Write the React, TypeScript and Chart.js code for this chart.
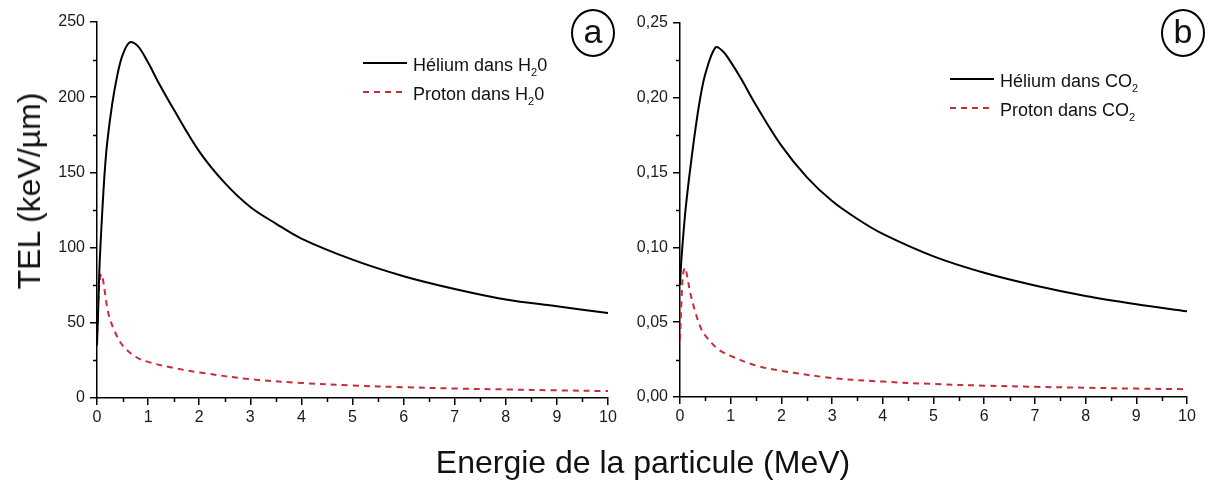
import React, { useEffect, useRef } from 'react';
import { Chart, registerables } from 'chart.js';
Chart.register(...registerables);

// ---- Data ----
const HELIUM_E_A = [0, 0.02, 0.05, 0.1, 0.15, 0.2, 0.3, 0.4, 0.5, 0.64, 0.8, 1, 1.2, 1.5, 2, 2.5, 3, 3.5, 4, 5, 6, 7, 8, 9, 10];
const HELIUM_H2O = [35, 55, 88, 122, 150, 170, 196, 215, 228, 236.5, 234, 223, 210, 192, 164, 143, 127, 116, 106, 92, 81, 72.5, 65.5, 61, 56.5];
const PROTON_E_A = [0, 0.03, 0.06, 0.09, 0.12, 0.16, 0.2, 0.25, 0.35, 0.5, 0.75, 1, 1.5, 2, 3, 4, 5, 6, 7, 8, 9, 10];
const PROTON_H2O = [42, 68, 80, 82.5, 78, 69, 60, 53, 44, 35, 27.5, 24, 20, 17, 12.5, 10, 8.3, 7.2, 6.3, 5.7, 5.1, 4.6];

const HELIUM_E_B = [0, 0.02, 0.05, 0.1, 0.15, 0.2, 0.3, 0.4, 0.5, 0.7, 0.85, 1, 1.2, 1.5, 2, 2.5, 3, 3.5, 4, 5, 6, 7, 8, 9, 10];
const HELIUM_CO2 = [0.075, 0.088, 0.102, 0.122, 0.138, 0.152, 0.178, 0.2, 0.216, 0.2337, 0.231, 0.224, 0.213, 0.195, 0.168, 0.147, 0.131, 0.119, 0.109, 0.094, 0.083, 0.0745, 0.0675, 0.062, 0.0573];
const PROTON_E_B = [0, 0.03, 0.06, 0.1, 0.14, 0.2, 0.3, 0.4, 0.5, 0.75, 1, 1.5, 2, 3, 4, 5, 6, 7, 8, 9, 10];
const PROTON_CO2 = [0.038, 0.065, 0.082, 0.0865, 0.081, 0.07, 0.057, 0.047, 0.041, 0.032, 0.0275, 0.021, 0.0175, 0.0127, 0.0103, 0.0087, 0.0076, 0.0068, 0.0062, 0.0056, 0.0052];

const X_MINOR = [0.5, 1.5, 2.5, 3.5, 4.5, 5.5, 6.5, 7.5, 8.5, 9.5];
const Y_MINOR_A = [25, 75, 125, 175, 225];
const Y_MINOR_B = [0.025, 0.075, 0.125, 0.175, 0.225];

const LEGEND_A = [['Hélium dans H', '2', '0'], ['Proton dans H', '2', '0']];
const LEGEND_B = [['Hélium dans CO', '2', ''], ['Proton dans CO', '2', '']];

const X_TITLE = 'Energie de la particule (MeV)';
const Y_TITLE = 'TEL (keV/µm)';

const FONT = '"Liberation Sans", Arial, Helvetica, sans-serif';
const RED = '#c62d3a';

const zip = (xs: number[], ys: number[]) => xs.map((x, i) => ({ x, y: ys[i] }));

const minorTicksPlugin = {
  id: 'minorTicks',
  afterDraw(chart: any, _args: any, opts: any) {
    const { ctx, scales } = chart;
    const x = scales.x;
    const y = scales.y;
    ctx.save();
    ctx.strokeStyle = '#000';
    ctx.lineWidth = 1.5;
    (opts.xMinor || []).forEach((v: number) => {
      const px = Math.round(x.getPixelForValue(v)) + 0.5;
      ctx.beginPath();
      ctx.moveTo(px, y.bottom);
      ctx.lineTo(px, y.bottom + 4);
      ctx.stroke();
    });
    (opts.yMinor || []).forEach((v: number) => {
      const py = Math.round(y.getPixelForValue(v)) + 0.5;
      ctx.beginPath();
      ctx.moveTo(x.left - 4, py);
      ctx.lineTo(x.left, py);
      ctx.stroke();
    });
    ctx.restore();
  },
};

type PanelProps = {
  left: number;
  width: number;
  axisWidth: number;
  padTop: number;
  padRight: number;
  padBottom: number;
  heliumE: number[];
  helium: number[];
  protonE: number[];
  proton: number[];
  yMax: number;
  yStep: number;
  yMinor: number[];
  yFormat: (v: number) => string;
};

function Panel(p: PanelProps) {
  const ref = useRef<HTMLCanvasElement | null>(null);
  useEffect(() => {
    if (!ref.current) return;
    const chart = new Chart(ref.current, {
      type: 'line',
      data: {
        datasets: [
          {
            label: 'helium',
            data: zip(p.heliumE, p.helium),
            borderColor: '#000',
            borderWidth: 2,
            pointRadius: 0,
            tension: 0.35,
            fill: false,
          },
          {
            label: 'proton',
            data: zip(p.protonE, p.proton),
            borderColor: RED,
            borderWidth: 2,
            borderDash: [6, 5],
            pointRadius: 0,
            tension: 0.35,
            fill: false,
          },
        ],
      },
      options: {
        animation: false,
        responsive: false,
        devicePixelRatio: 1,
        layout: { padding: { left: 0, top: p.padTop, right: p.padRight, bottom: p.padBottom } },
        plugins: {
          legend: { display: false },
          tooltip: { enabled: false },
          minorTicks: { xMinor: X_MINOR, yMinor: p.yMinor },
        } as any,
        scales: {
          x: {
            type: 'linear',
            min: 0,
            max: 10,
            afterFit: (s: any) => { s.height = 30; },
            ticks: { stepSize: 1, color: '#1a1a1a', padding: 3, font: { family: FONT, size: 16 }, maxRotation: 0 },
            grid: { display: true, drawOnChartArea: false, drawTicks: true, tickLength: 7, color: '#000', lineWidth: 1.5 },
            border: { display: true, color: '#000', width: 1.5 },
          },
          y: {
            type: 'linear',
            min: 0,
            max: p.yMax,
            afterFit: (s: any) => { s.width = p.axisWidth; },
            ticks: {
              stepSize: p.yStep,
              color: '#1a1a1a',
              padding: 5,
              font: { family: FONT, size: 16 },
              callback: (v: any) => p.yFormat(Number(v)),
            },
            grid: { display: true, drawOnChartArea: false, drawTicks: true, tickLength: 7, color: '#000', lineWidth: 1.5 },
            border: { display: true, color: '#000', width: 1.5 },
          },
        },
      } as any,
      plugins: [minorTicksPlugin],
    });
    return () => chart.destroy();
  }, []);
  return (
    <canvas
      ref={ref}
      width={p.width}
      height={481}
      style={{ position: 'absolute', left: p.left, top: 0, width: p.width, height: 481 }}
    />
  );
}

function LegendBlock({ left, top, items }: { left: number; top: number; items: string[][] }) {
  return (
    <div style={{ position: 'absolute', left, top, fontFamily: FONT, fontSize: 18, color: '#111' }}>
      {items.map((it, i) => (
        <div key={i} style={{ display: 'flex', alignItems: 'center', height: 29, whiteSpace: 'nowrap' }}>
          <svg width={46} height={10} style={{ marginRight: 4 }}>
            {i === 0 ? (
              <line x1={0} y1={5} x2={44} y2={5} stroke="#000" strokeWidth={2} />
            ) : (
              <line x1={0} y1={5} x2={44} y2={5} stroke={RED} strokeWidth={2} strokeDasharray="6 5" />
            )}
          </svg>
          <span style={{ lineHeight: '18px', marginTop: 4 }}>
            {it[0]}
            <sub style={{ fontSize: 11, verticalAlign: -5, lineHeight: 0 }}>{it[1]}</sub>
            {it[2]}
          </span>
        </div>
      ))}
    </div>
  );
}

function CircleLabel({ cx, cy, text }: { cx: number; cy: number; text: string }) {
  return (
    <div
      style={{
        position: 'absolute',
        left: cx - 22,
        top: cy - 24,
        width: 44,
        height: 48,
        boxSizing: 'border-box',
        border: '2px solid #000',
        borderRadius: '50%',
        display: 'flex',
        alignItems: 'center',
        justifyContent: 'center',
        fontFamily: FONT,
        fontSize: 34,
        lineHeight: '34px',
        color: '#111',
        background: '#fff',
      }}
    >
      <span style={{ marginTop: -4 }}>{text}</span>
    </div>
  );
}

export default function App() {
  return (
    <div style={{ position: 'absolute', left: 0, top: 0, width: 1209, height: 481, background: '#fff', overflow: 'hidden' }}>
      <Panel
        left={0}
        width={620}
        axisWidth={97}
        padTop={22}
        padRight={12}
        padBottom={481 - 398 - 30}
        heliumE={HELIUM_E_A}
        helium={HELIUM_H2O}
        protonE={PROTON_E_A}
        proton={PROTON_H2O}
        yMax={250}
        yStep={50}
        yMinor={Y_MINOR_A}
        yFormat={(v) => String(Math.round(v))}
      />
      <Panel
        left={615}
        width={594}
        axisWidth={65}
        padTop={23}
        padRight={22}
        padBottom={481 - 397 - 30}
        heliumE={HELIUM_E_B}
        helium={HELIUM_CO2}
        protonE={PROTON_E_B}
        proton={PROTON_CO2}
        yMax={0.25}
        yStep={0.05}
        yMinor={Y_MINOR_B}
        yFormat={(v) => v.toFixed(2).replace('.', ',')}
      />
      <LegendBlock left={363} top={48} items={LEGEND_A} />
      <LegendBlock left={950} top={64} items={LEGEND_B} />
      <CircleLabel cx={593} cy={33} text="a" />
      <CircleLabel cx={1183} cy={33} text="b" />
      <div
        style={{
          position: 'absolute',
          left: 643,
          top: 446,
          transform: 'translateX(-50%)',
          whiteSpace: 'nowrap',
          fontFamily: FONT,
          fontSize: 32,
          lineHeight: '32px',
          color: '#111',
        }}
      >
        {X_TITLE}
      </div>
      <div
        style={{
          position: 'absolute',
          left: 29,
          top: 191,
          transform: 'translate(-50%, -50%) rotate(-90deg)',
          whiteSpace: 'nowrap',
          fontFamily: FONT,
          fontSize: 32,
          lineHeight: '32px',
          color: '#111',
        }}
      >
        {Y_TITLE}
      </div>
    </div>
  );
}
